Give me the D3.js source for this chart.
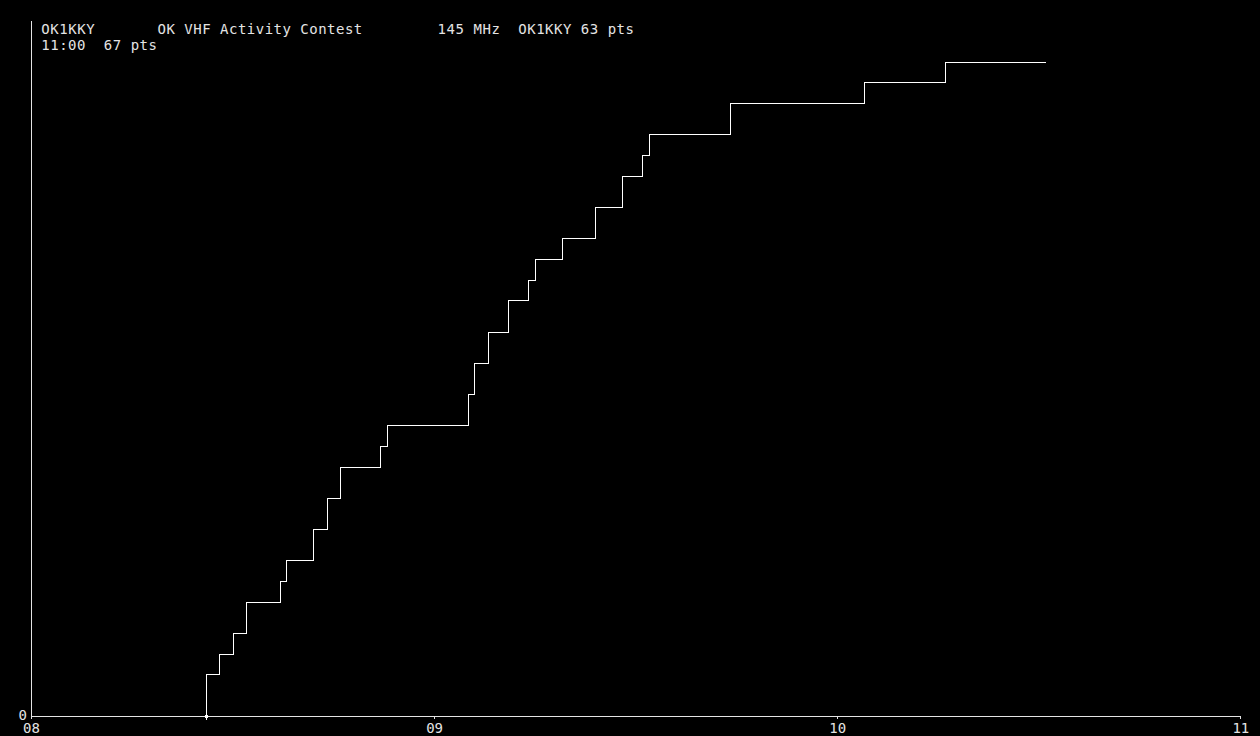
<!DOCTYPE html>
<html>
<head>
<meta charset="utf-8">
<script src="https://cdn.jsdelivr.net/npm/d3@7"></script>
<style>
  html, body { margin: 0; padding: 0; background: #000; }
  svg { display: block; }
  text { font-family: "DejaVu Sans Mono", "Liberation Mono", monospace; fill: #e4e4e4; }
</style>
</head>
<body>
<svg id="chart" width="1260" height="736"></svg>
<script>
// ---- data ----
const qsoTimes = ["08:26","08:28","08:30","08:32","08:37","08:38","08:42","08:44","08:46","08:52","08:53",
                  "09:05","09:06","09:08","09:11","09:14","09:15","09:19","09:24","09:28","09:31","09:32",
                  "09:44","10:04","10:16"];
const cumulativePts = [4,6,8,11,13,15,18,21,24,26,28,31,34,37,40,42,44,46,49,52,54,56,59,61,63];
const startTime = "08:26";
const endTime = "10:31";
const hourTicks = ["08","09","10","11"];
const yMaxPts = 67;
const yTickLabels = ["0"];
const headerLine1 = [
  {text: "OK1KKY", x: 41.3},
  {text: "OK VHF Activity Contest", x: 157.6},
  {text: "145 MHz", x: 437.6},
  {text: "OK1KKY 63 pts", x: 518.3}
];
const headerLine2 = [
  {text: "11:00  67 pts", x: 41.3}
];

// ---- helpers ----
const toMin = s => { const [h, m] = s.split(":").map(Number); return (h - 8) * 60 + m; };

const svg = d3.select("#chart");
svg.append("rect").attr("width", 1260).attr("height", 736).attr("fill", "#000");

const x = d3.scaleLinear().domain([0, 180]).range([31, 1240.3]);
const y = d3.scaleLinear().domain([0, yMaxPts]).range([716, 20]);
// pixel-snapped versions for crisp 1px lines
const px = v => Math.round(x(v)) + 0.5;
const py = v => Math.round(y(v)) + 0.5;

// x axis
const xAxis = d3.axisBottom(x)
  .tickValues(hourTicks.map((h, i) => i * 60))
  .tickFormat((d, i) => hourTicks[i])
  .tickSize(3).tickSizeOuter(0).tickPadding(4);
const gx = svg.append("g").attr("transform", "translate(0,716)").call(xAxis);
gx.select(".domain").attr("stroke", "#e4e4e4").attr("shape-rendering", "crispEdges");
gx.selectAll(".tick line").attr("stroke", "#e4e4e4").attr("shape-rendering", "crispEdges");
gx.selectAll(".tick text").attr("fill", "#e4e4e4").style("font-size", "14px")
  .style("font-family", "'DejaVu Sans Mono', monospace");

// y axis
const yAxis = d3.axisLeft(y)
  .tickValues([0])
  .tickFormat((d, i) => yTickLabels[i])
  .tickSize(0).tickSizeOuter(0).tickPadding(4);
const gy = svg.append("g").attr("transform", "translate(31,0)").call(yAxis);
gy.select(".domain").attr("stroke", "#e4e4e4").attr("shape-rendering", "crispEdges");
gy.selectAll(".tick text").attr("fill", "#e4e4e4").style("font-size", "14px")
  .attr("dy", "0.22em")
  .style("font-family", "'DejaVu Sans Mono', monospace");

// step line
const series = [{t: toMin(startTime), v: 0}]
  .concat(qsoTimes.map((t, i) => ({t: toMin(t), v: cumulativePts[i]})))
  .concat([{t: toMin(endTime), v: cumulativePts[cumulativePts.length - 1]}]);

const line = d3.line()
  .x(d => px(d.t))
  .y(d => py(d.v))
  .curve(d3.curveStepAfter);

svg.append("path")
  .datum(series)
  .attr("d", line)
  .attr("fill", "none")
  .attr("stroke", "#ffffff")
  .attr("stroke-width", 1)
  .attr("shape-rendering", "crispEdges");

// start marker on the axis
const sx = px(toMin(startTime));
svg.append("line")
  .attr("x1", sx).attr("x2", sx).attr("y1", y(0)).attr("y2", y(0) + 4)
  .attr("stroke", "#ffffff").attr("stroke-width", 1).attr("shape-rendering", "crispEdges");
svg.append("rect")
  .attr("x", sx - 1.5).attr("y", y(0) - 1).attr("width", 3).attr("height", 3)
  .attr("fill", "#ffffff");

// header texts
const pitch = 8.9;
function header(items, baseline) {
  svg.selectAll(null).data(items).enter().append("text")
    .attr("x", d => d.x).attr("y", baseline)
    .attr("textLength", d => d.text.length * pitch)
    .attr("lengthAdjust", "spacing")
    .style("font-size", "14px")
    .style("white-space", "pre")
    .attr("xml:space", "preserve")
    .text(d => d.text);
}
header(headerLine1, 33.5);
header(headerLine2, 49.5);
</script>
</body>
</html>
